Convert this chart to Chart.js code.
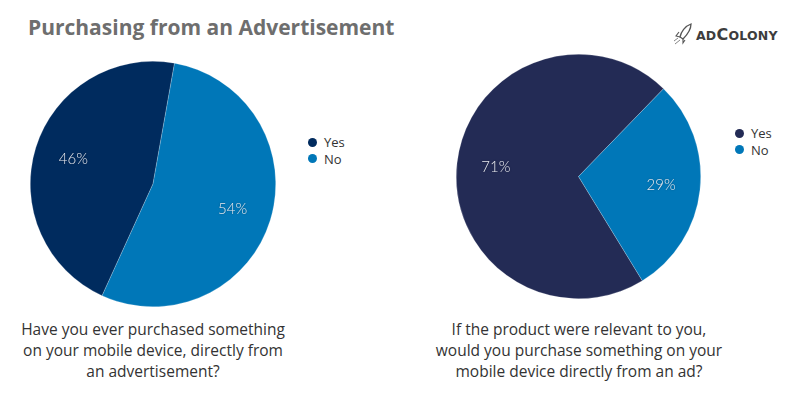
<!DOCTYPE html>
<html>
<head>
<meta charset="utf-8">
<script src="https://cdn.jsdelivr.net/npm/chart.js@4.4.0/dist/chart.umd.min.js"></script>
<style>
  html, body { margin:0; padding:0; background:#fff; }
  body { width:796px; height:396px; position:relative; overflow:hidden; font-family: "Open Sans", Lato, sans-serif; }
  #title { position:absolute; left:28px; top:13px; font-size:21px; font-weight:700; color:#6e6e6e; white-space:nowrap; }
  #logo { position:absolute; left:674px; top:23px; height:22px; display:flex; align-items:center; }
  #logo span.t { font-family: "DejaVu Sans", sans-serif; font-weight:700; font-size:12.5px; color:#3d3d3d; letter-spacing:0.2px; }
  #logo span.big { font-size:16px; }
  .cv { position:absolute; }
  .legend { position:absolute; font-size:13px; color:#333; line-height:16.5px; }
  .legend div { display:flex; align-items:center; white-space:nowrap; }
  .legend i { display:inline-block; width:9px; height:9px; border-radius:50%; margin-right:7px; }
  .cap { position:absolute; width:360px; text-align:center; font-size:15.5px; color:#333; line-height:21px; }
</style>
</head>
<body>
<div id="title">Purchasing from an Advertisement</div>
<div id="logo">
  <svg width="20" height="22" viewBox="0 0 20 22">
    <path d="M17 1 C11 3 7 9 6 14 L9 16 C13 12 17 7 17 1 Z" fill="none" stroke="#555" stroke-width="1.3"/>
    <path d="M6 14 L2 13 L5 9 M9 16 L9 20 L11 17" fill="none" stroke="#555" stroke-width="1.1"/>
    <path d="M6 17 L1 21 M4 15 L0 18" stroke="#777" stroke-width="0.9"/>
  </svg>
  <span class="t" style="margin-left:2px">AD<span class="big">C</span>OLONY</span>
</div>

<div class="cv" style="left:30px;top:61px;width:246px;height:246px;"><canvas id="c1"></canvas></div>
<div class="cv" style="left:456px;top:54px;width:245px;height:245px;"><canvas id="c2"></canvas></div>

<div class="legend" id="lg1" style="left:308px;top:134px;"></div>
<div class="legend" id="lg2" style="left:735px;top:125px;"></div>

<div class="cap" id="cap1" style="left:-27px;top:319px;"></div>
<div class="cap" id="cap2" style="left:399px;top:319px;"></div>

<script>
// ---- data ----
const categories = ["Yes", "No"];
const chart1Values = [46, 54];
const chart2Values = [71, 29];
const chart1Colors = ["#002b5e", "#0077b8"];
const chart2Colors = ["#232b55", "#0077b8"];
const chart1Caption = ["Have you ever purchased something", "on your mobile device, directly from", "an advertisement?"];
const chart2Caption = ["If the product were relevant to you,", "would you purchase something on your", "mobile device directly from an ad?"];

const pctLabels = {
  id: 'pctLabels',
  afterDatasetsDraw(chart) {
    const ctx = chart.ctx;
    const meta = chart.getDatasetMeta(0);
    const data = chart.data.datasets[0].data;
    ctx.save();
    ctx.font = '300 15px Lato, sans-serif';
    ctx.fillStyle = '#e8eaf0';
    ctx.textAlign = 'center';
    ctx.textBaseline = 'middle';
    ctx.shadowColor = 'rgba(0,0,0,0.35)';
    ctx.shadowBlur = 2;
    meta.data.forEach((arc, i) => {
      const p = arc.getProps(['x','y','startAngle','endAngle','outerRadius'], true);
      const mid = (p.startAngle + p.endAngle) / 2;
      const r = p.outerRadius * 0.68;
      ctx.fillText(data[i] + '%', p.x + Math.cos(mid) * r, p.y + Math.sin(mid) * r);
    });
    ctx.restore();
  }
};

function makePie(id, values, colors, rotation) {
  return new Chart(document.getElementById(id), {
    type: 'pie',
    data: {
      labels: categories,
      datasets: [{
        data: values,
        backgroundColor: colors,
        borderColor: 'rgba(255,255,255,0.35)',
        borderWidth: 0.6
      }]
    },
    options: {
      responsive: true,
      maintainAspectRatio: false,
      animation: false,
      rotation: rotation,
      layout: { padding: 0 },
      plugins: { legend: { display: false }, tooltip: { enabled: false } }
    },
    plugins: [pctLabels]
  });
}

makePie('c1', chart1Values, chart1Colors, 204.5);
makePie('c2', chart2Values, chart2Colors, 148.5);

function makeLegend(id, colors) {
  const el = document.getElementById(id);
  categories.forEach((c, i) => {
    const d = document.createElement('div');
    d.innerHTML = '<i style="background:' + colors[i] + '"></i>' + c;
    el.appendChild(d);
  });
}
makeLegend('lg1', chart1Colors);
makeLegend('lg2', chart2Colors);

document.getElementById('cap1').innerHTML = chart1Caption.join('<br>');
document.getElementById('cap2').innerHTML = chart2Caption.join('<br>');
</script>
</body>
</html>
